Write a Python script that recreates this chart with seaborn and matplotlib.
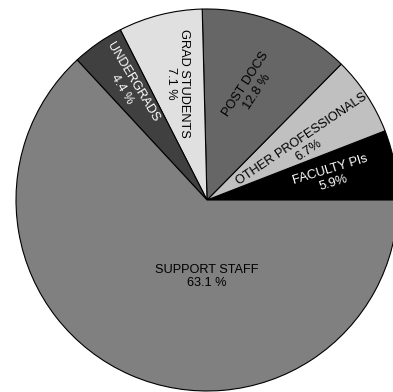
import matplotlib
matplotlib.use("Agg")
import matplotlib.pyplot as plt
import seaborn as sns
import numpy as np

# ---- data ----
categories = ["FACULTY PIs", "OTHER PROFESSIONALS", "POST DOCS",
              "GRAD STUDENTS", "UNDERGRADS", "SUPPORT STAFF"]
shares = [5.9, 6.7, 12.8, 7.1, 4.4, 63.1]
pct_labels = ["5.9%", "6.7%", "12.8 %", "7.1 %", "4.4 %", "63.1 %"]

# ---- style ----
colors = ["#000000", "#c0c0c0", "#666666", "#e0e0e0", "#404040", "#808080"]
text_colors = ["white", "black", "black", "black", "white", "black"]
label_rot = [17, 34, 57, -90, -59, 0]
label_r = [0.665, 0.59, 0.63, 0.63, 0.73, 0.40]
angle_offset = [0, -4, 0, 0, 0, None]   # None -> straight down

sns.set_theme(style="white")
plt.rcParams["font.family"] = ["Liberation Sans", "DejaVu Sans"]

W, H = 393, 392
fig = plt.figure(figsize=(W / 100, H / 100), dpi=100)
cx, cy, R = 207, 200, 191
ax = fig.add_axes([(cx - R) / W, (H - cy - R) / H, 2 * R / W, 2 * R / H])
ax.set_xlim(-1, 1)
ax.set_ylim(-1, 1)
ax.axis("off")

wedges, _ = ax.pie(shares, colors=colors, startangle=0, counterclock=True,
                   radius=1, frame=False,
                   wedgeprops=dict(edgecolor="black", linewidth=0.8))
for w in wedges:
    w.set_clip_on(False)
ax.set_xlim(-1, 1)
ax.set_ylim(-1, 1)
ax.set_aspect("auto")

for i, w in enumerate(wedges):
    if angle_offset[i] is None:
        ang = -90.0
    else:
        ang = (w.theta1 + w.theta2) / 2 + angle_offset[i]
    r = label_r[i]
    x = r * np.cos(np.radians(ang))
    y = r * np.sin(np.radians(ang))
    ax.text(x, y, f"{categories[i]}\n{pct_labels[i]}", ha="center", va="center",
            rotation=label_rot[i], rotation_mode="anchor", multialignment="center",
            color=text_colors[i], fontsize=9.2, linespacing=1.15)

fig.savefig("out.png", dpi=100)
